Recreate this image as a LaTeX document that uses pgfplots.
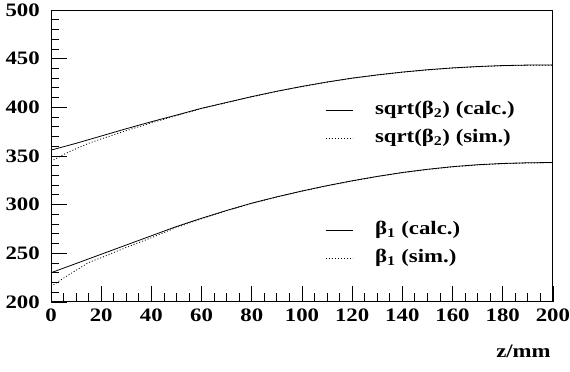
\documentclass[border=0pt]{standalone}
\usepackage{fontspec}
\setmainfont{Liberation Serif}
\usepackage{graphicx}
\usepackage{pgfplots}
\pgfplotsset{compat=1.18}
\usepackage{pgfplotstable}
\newcommand\lbl{\fontsize{19}{22}\selectfont\bfseries}
\newcommand\sx[1]{\scalebox{1.2}[1]{#1}}

\pgfplotstableread{
z v
0 356
10 363
20 370.5
30 378
40 385.2
50 392
60 399
70 405
80 411
90 416.5
100 421.5
110 426
120 430
130 433.3
140 436.2
150 438.6
160 440.5
170 441.9
180 442.9
190 443.4
200 443.5
}\uppercalc

\pgfplotstableread{
z v
0 344.5
5 351.5
10 357.5
15 363
20 367.5
30 376
40 384
50 391.5
60 398.7
70 404.8
80 410.8
90 416.3
100 421.3
110 425.8
120 429.8
130 433.1
140 436
150 438.4
160 440.3
170 441.7
180 442.7
190 443.2
200 443.3
}\uppersim

\pgfplotstableread{
z v
0 230
10 239.5
20 249
30 258.5
40 268
50 277.5
60 286
70 294
80 301.5
90 308
100 314
110 319.5
120 324.5
130 329
140 333
150 336.3
160 339
170 341
180 342.3
190 343
200 343.3
}\lowercalc

\pgfplotstableread{
z v
0 216
5 224.5
10 232.5
15 240.5
20 245.5
30 256
40 266
50 276.5
60 285.5
70 293.8
80 301.3
90 307.8
100 313.8
110 319.3
120 324.3
130 328.8
140 332.8
150 336.1
160 338.8
170 340.8
180 342.1
190 342.8
200 343.1
}\lowersim

\pgfplotsset{
  common/.style={
    scale only axis, width=502pt, height=292pt,
    xmin=0, xmax=200, ymin=200, ymax=500,
    at={(0,0)}, anchor=south west,
    legend image code/.code={\draw[##1] (0pt,0pt) -- (27pt,0pt);},
    legend cell align=left,
  },
}

\begin{document}
\begin{tikzpicture}
\begin{axis}[common, name=main,
  xtick distance=20, ytick distance=50,
  minor x tick num=3, minor y tick num=4,
  xtick pos=left, ytick pos=left, tick align=inside,
  major tick length=16pt, minor tick length=8.5pt,
  every tick/.style={black, line width=0.8pt},
  axis line style={line width=0.9pt},
  /pgf/number format/assume math mode=true,
  ticklabel style={font=\lbl},
  xticklabel={\sx{\pgfmathprintnumber{\tick}}},
  yticklabel={\sx{\pgfmathprintnumber{\tick}}},
  xticklabel style={inner sep=0pt, yshift=-7pt},
  yticklabel style={inner sep=0pt, xshift=-11pt},
  xlabel={\sx{z/mm}},
  xlabel style={at={(rel axis cs:1,0)}, anchor=north east, inner sep=0pt, yshift=-43pt, xshift=-2pt, font=\lbl},
  legend style={draw=none, fill=none, at={(rel axis cs:0.546,0.690)}, anchor=north west,
    inner sep=0pt, row sep=9pt, column sep=22pt,
    nodes={inner sep=0pt, text height=14pt, text depth=5pt, font=\lbl}},
]
\addplot[black, line width=0.8pt] table[x=z, y=v] {\uppercalc};
\addlegendentry{\sx{sqrt(β\textsubscript{2}) (calc.)}}
\addplot[black, line width=0.8pt, dash pattern=on 1pt off 2pt] table[x=z, y=v] {\uppersim};
\addlegendentry{\sx{sqrt(β\textsubscript{2}) (sim.)}}
\end{axis}
\begin{axis}[common, hide axis,
  legend style={draw=none, fill=none, at={(rel axis cs:0.546,0.279)}, anchor=north west,
    inner sep=0pt, row sep=9pt, column sep=22pt,
    nodes={inner sep=0pt, text height=14pt, text depth=5pt, font=\lbl}},
]
\addplot[black, line width=0.8pt] table[x=z, y=v] {\lowercalc};
\addlegendentry{\sx{β\textsubscript{1} (calc.)}}
\addplot[black, line width=0.8pt, dash pattern=on 1pt off 2pt] table[x=z, y=v] {\lowersim};
\addlegendentry{\sx{β\textsubscript{1} (sim.)}}
\end{axis}
\path (main.south west) ++(-51pt,-70pt) rectangle ++(570pt,372pt);
\end{tikzpicture}
\end{document}
